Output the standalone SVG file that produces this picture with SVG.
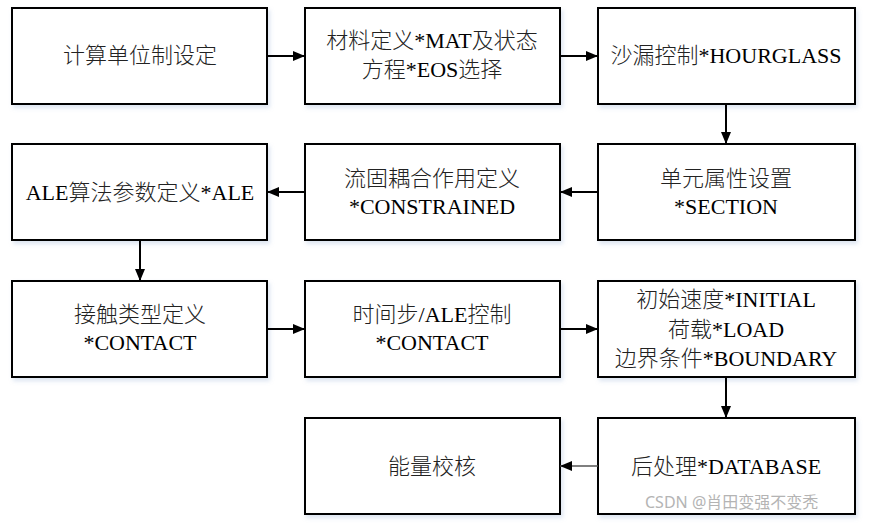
<svg xmlns="http://www.w3.org/2000/svg" width="872" height="523" viewBox="0 0 872 523">
<defs>
<marker id="ah" markerWidth="12" markerHeight="10" refX="12" refY="5" orient="auto" markerUnits="userSpaceOnUse"><path d="M0,0 L12,5 L0,10 Z" fill="#000"/></marker>
<filter id="sh" x="-5%" y="-5%" width="112%" height="115%"><feDropShadow dx="2" dy="3" stdDeviation="2" flood-color="#9bb3d6" flood-opacity="0.35"/></filter>
</defs>
<style>
.b{fill:#fff;stroke:#000;stroke-width:2;filter:url(#sh)}
.t{font-family:"Noto Sans CJK SC",sans-serif;font-size:22px;fill:#222;text-anchor:middle;font-weight:300}
.l{font-family:"Liberation Serif",serif;font-weight:400;fill:#000}
.c{stroke:#000;stroke-width:2;fill:none;marker-end:url(#ah)}
</style>
<rect width="872" height="523" fill="#fff"/>
<g id="n1"><rect class="b" x="12" y="8" width="255" height="96"/><text class="t" x="140" y="63">计算单位制设定</text></g>
<g id="n2"><rect class="b" x="305" y="8" width="255" height="96"/><text class="t" x="432" y="48">材料定义<tspan class="l">*MAT</tspan>及状态</text><text class="t" x="432" y="77">方程<tspan class="l">*EOS</tspan>选择</text></g>
<g id="n3"><rect class="b" x="598" y="8" width="257" height="96"/><text class="t" x="726" y="63">沙漏控制<tspan class="l">*HOURGLASS</tspan></text></g>
<g id="n4"><rect class="b" x="598" y="144" width="257" height="96"/><text class="t" x="726" y="186">单元属性设置</text><text class="t" x="726" y="214"><tspan class="l">*SECTION</tspan></text></g>
<g id="n5"><rect class="b" x="305" y="144" width="255" height="96"/><text class="t" x="432" y="186">流固耦合作用定义</text><text class="t" x="432" y="214"><tspan class="l">*CONSTRAINED</tspan></text></g>
<g id="n6"><rect class="b" x="12" y="144" width="255" height="96"/><text class="t" x="140" y="200"><tspan class="l">ALE</tspan>算法参数定义<tspan class="l">*ALE</tspan></text></g>
<g id="n7"><rect class="b" x="12" y="281" width="255" height="96"/><text class="t" x="140" y="322">接触类型定义</text><text class="t" x="140" y="350"><tspan class="l">*CONTACT</tspan></text></g>
<g id="n8"><rect class="b" x="305" y="281" width="255" height="96"/><text class="t" x="432" y="322">时间步<tspan class="l">/ALE</tspan>控制</text><text class="t" x="432" y="350"><tspan class="l">*CONTACT</tspan></text></g>
<g id="n9"><rect class="b" x="598" y="281" width="257" height="96"/><text class="t" x="726" y="307">初始速度<tspan class="l">*INITIAL</tspan></text><text class="t" x="726" y="337">荷载<tspan class="l">*LOAD</tspan></text><text class="t" x="726" y="366">边界条件<tspan class="l">*BOUNDARY</tspan></text></g>
<g id="n10"><rect class="b" x="598" y="418" width="257" height="96"/><text class="t" x="726" y="474">后处理<tspan class="l">*DATABASE</tspan></text></g>
<g id="n11"><rect class="b" x="305" y="418" width="255" height="96"/><text class="t" x="432" y="474">能量校核</text></g>
<g id="connectors">
<line class="c" x1="267" y1="56" x2="305" y2="56"/>
<line class="c" x1="560" y1="56" x2="598" y2="56"/>
<line class="c" x1="726" y1="104" x2="726" y2="144"/>
<line class="c" x1="598" y1="192" x2="560" y2="192"/>
<line class="c" x1="305" y1="192" x2="267" y2="192"/>
<line class="c" x1="140" y1="240" x2="140" y2="281"/>
<line class="c" x1="267" y1="329" x2="305" y2="329"/>
<line class="c" x1="560" y1="329" x2="598" y2="329"/>
<line class="c" x1="726" y1="377" x2="726" y2="418"/>
<line class="c" x1="598" y1="466" x2="560" y2="466" style="stroke:#555;stroke-width:1.5"/>
</g>
<text x="645" y="508" style="font-family:'Noto Sans','Noto Sans CJK SC',sans-serif;font-size:16px;fill:#b4b4b4">CSDN @肖田变强不变秃</text>
</svg>
